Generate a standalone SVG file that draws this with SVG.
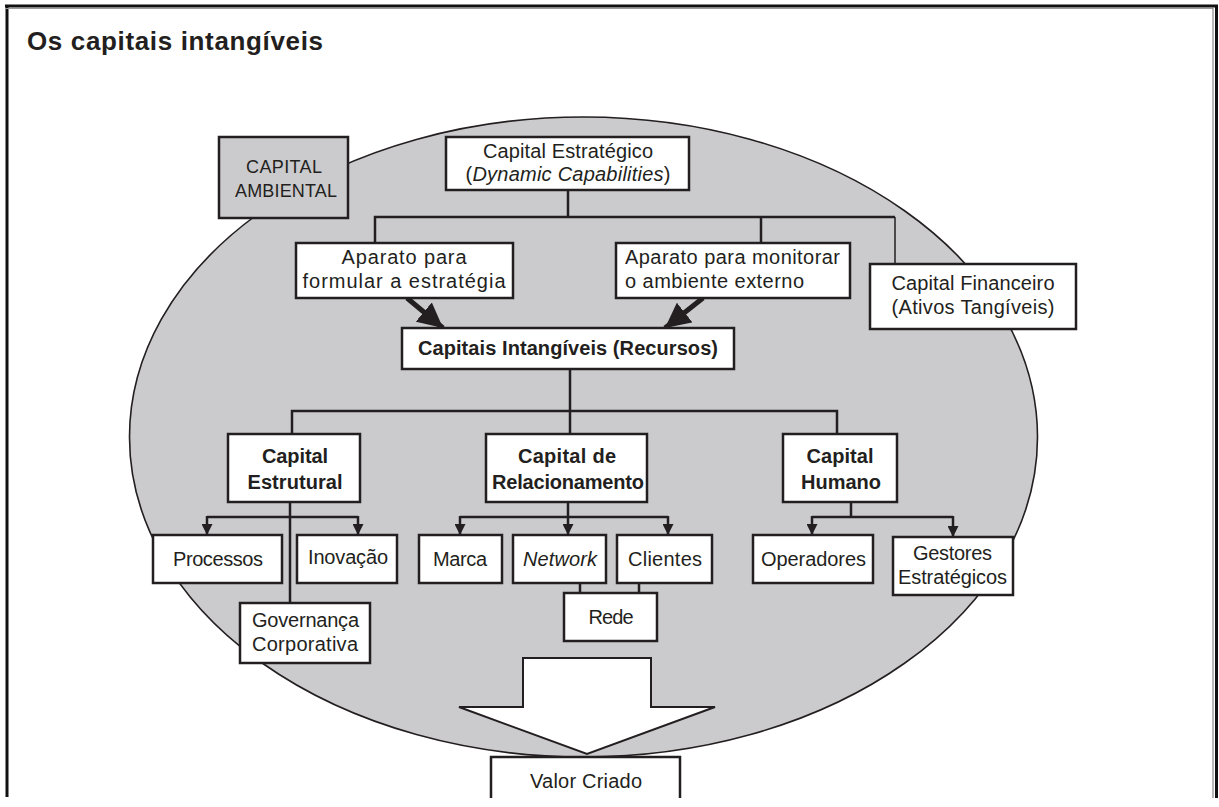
<svg xmlns="http://www.w3.org/2000/svg" width="1219" height="807" viewBox="0 0 1219 807">
<defs>
<style>
.box{fill:#fff;stroke:#231f20;stroke-width:2.5}
.gbox{fill:#cbcbcd;stroke:#231f20;stroke-width:2.5}
.t{font-family:"Liberation Sans",Arial,sans-serif;font-size:20px;fill:#231f20;text-anchor:middle}
.s{font-size:18px}
.b{font-weight:bold}
.c{fill:none;stroke:#231f20;stroke-width:2.5}
.thin{fill:none;stroke:#231f20;stroke-width:1.5}
</style>
<marker id="ah" viewBox="0 0 10 10" refX="10" refY="5" markerWidth="11" markerHeight="11" markerUnits="userSpaceOnUse" orient="auto">
<path d="M0,0 L10,5 L0,10 z" fill="#231f20"/>
</marker>
<marker id="big" viewBox="0 0 10 10" refX="10" refY="5" markerWidth="25" markerHeight="25" markerUnits="userSpaceOnUse" orient="auto">
<path d="M0,0 L10,5 L0,10 z" fill="#231f20"/>
</marker>
</defs>
<rect width="1219" height="807" fill="#fff"/>
<g id="frame">
<line x1="7" y1="5" x2="7" y2="797" stroke="#111" stroke-width="3"/>
<line x1="5" y1="6" x2="1218" y2="6" stroke="#111" stroke-width="3"/>
<line x1="5" y1="8.5" x2="1213" y2="8.5" stroke="#999" stroke-width="1"/>
<line x1="1213" y1="8" x2="1213" y2="798" stroke="#888" stroke-width="1.2"/>
<line x1="1216.5" y1="5" x2="1216.5" y2="798" stroke="#111" stroke-width="3"/>
</g>
<text x="27" y="50" textLength="296" style="font-family:'Liberation Sans',Arial,sans-serif;font-size:26px;font-weight:bold;fill:#231f20">Os capitais intangíveis</text>
<ellipse id="ambiente" cx="583.5" cy="437" rx="454" ry="320" fill="#cbcbcd" stroke="#231f20" stroke-width="1.6"/>
<g id="connectors">
<path class="c" d="M568,190 V217 M375,243 V217 H895 M761,217 V243"/>
<path class="thin" d="M895,217 V264"/>
<line x1="407" y1="298" x2="443" y2="328" stroke="#231f20" stroke-width="5" marker-end="url(#big)"/>
<line x1="703" y1="298" x2="665" y2="328" stroke="#231f20" stroke-width="5" marker-end="url(#big)"/>
<path class="c" d="M570,369 V411 M292,434 V411 H837 V434 M570,411 V434"/>
<path class="c" d="M290,502 V603 M207,517 H358"/>
<line class="c" x1="207" y1="516" x2="207" y2="535" marker-end="url(#ah)"/>
<line class="c" x1="358" y1="516" x2="358" y2="535" marker-end="url(#ah)"/>
<path class="c" d="M568,502 V517 M460,517 H668"/>
<line class="c" x1="460" y1="516" x2="460" y2="535" marker-end="url(#ah)"/>
<line class="c" x1="568" y1="516" x2="568" y2="535" marker-end="url(#ah)"/>
<line class="c" x1="668" y1="516" x2="668" y2="535" marker-end="url(#ah)"/>
<path class="c" d="M580,583 V593 M639,583 V593"/>
<path class="c" d="M851,502 V517 M812,517 H953"/>
<line class="c" x1="812" y1="516" x2="812" y2="535" marker-end="url(#ah)"/>
<line class="c" x1="953" y1="516" x2="953" y2="537" marker-end="url(#ah)"/>
</g>
<g id="capital-ambiental">
<rect class="gbox" x="219" y="137" width="129" height="81"/>
<text class="t s" x="284" y="173" textLength="76">CAPITAL</text>
<text class="t s" x="286" y="197" textLength="102">AMBIENTAL</text>
</g>
<g id="capital-estrategico">
<rect class="box" x="446" y="137" width="243" height="53"/>
<text class="t" x="568" y="158" textLength="170">Capital Estratégico</text>
<text class="t" x="568" y="181" textLength="205">(<tspan font-style="italic">Dynamic Capabilities</tspan>)</text>
</g>
<g id="aparato-formular">
<rect class="box" x="296" y="243" width="217" height="55"/>
<text class="t" x="404" y="264" textLength="125">Aparato para</text>
<text class="t" x="404" y="288" textLength="203">formular a estratégia</text>
</g>
<g id="aparato-monitorar">
<rect class="box" x="616" y="243" width="234" height="55"/>
<text class="t" x="625" y="264" textLength="215" style="text-anchor:start">Aparato para monitorar</text>
<text class="t" x="625" y="288" textLength="179" style="text-anchor:start">o ambiente externo</text>
</g>
<g id="capital-financeiro">
<rect class="box" x="870" y="264" width="206" height="65"/>
<text class="t" x="973" y="290" textLength="163">Capital Financeiro</text>
<text class="t" x="973" y="314" textLength="163">(Ativos Tangíveis)</text>
</g>
<g id="capitais-intangiveis">
<rect class="box" x="402" y="328" width="332" height="41"/>
<text class="t b" x="568" y="355" textLength="300">Capitais Intangíveis (Recursos)</text>
</g>
<g id="capital-estrutural">
<rect class="box" x="228" y="434" width="132" height="68"/>
<text class="t b" x="295" y="463" textLength="66">Capital</text>
<text class="t b" x="295" y="489" textLength="95">Estrutural</text>
</g>
<g id="capital-relacionamento">
<rect class="box" x="486" y="434" width="161" height="68"/>
<text class="t b" x="567" y="463" textLength="98">Capital de</text>
<text class="t b" x="568" y="489" textLength="152">Relacionamento</text>
</g>
<g id="capital-humano">
<rect class="box" x="783" y="434" width="114" height="68"/>
<text class="t b" x="840" y="463" textLength="67">Capital</text>
<text class="t b" x="841" y="489" textLength="80">Humano</text>
</g>
<g id="processos">
<rect class="box" x="153" y="535" width="129" height="48"/>
<text class="t" x="218" y="566" textLength="90">Processos</text>
</g>
<g id="inovacao">
<rect class="box" x="297" y="535" width="100" height="48"/>
<text class="t" x="348" y="564" textLength="80">Inovação</text>
</g>
<g id="governanca">
<rect class="box" x="240" y="603" width="130" height="60"/>
<text class="t" x="305.5" y="627" textLength="107">Governança</text>
<text class="t" x="305" y="651" textLength="106">Corporativa</text>
</g>
<g id="marca">
<rect class="box" x="419" y="535" width="83" height="48"/>
<text class="t" x="460" y="566" textLength="54">Marca</text>
</g>
<g id="network">
<rect class="box" x="513" y="535" width="93" height="48"/>
<text class="t" x="560" y="566" font-style="italic" textLength="74">Network</text>
</g>
<g id="clientes">
<rect class="box" x="617" y="535" width="95" height="48"/>
<text class="t" x="665" y="566" textLength="74">Clientes</text>
</g>
<g id="rede">
<rect class="box" x="564" y="593" width="93" height="48"/>
<text class="t" x="611" y="624" textLength="45">Rede</text>
</g>
<g id="operadores">
<rect class="box" x="753" y="535" width="120" height="48"/>
<text class="t" x="813.5" y="566" textLength="105">Operadores</text>
</g>
<g id="gestores">
<rect class="box" x="893" y="537" width="120" height="58"/>
<text class="t" x="952.5" y="560" textLength="79">Gestores</text>
<text class="t" x="952.5" y="584" textLength="109">Estratégicos</text>
</g>
<g id="seta-valor">
<path d="M523,658 H651 V707 H715 L587,754 L459,707 H523 Z" fill="#fff" stroke="#231f20" stroke-width="2"/>
</g>
<g id="valor-criado">
<path d="M491,798 V757 H680 V798" fill="#fff" stroke="#231f20" stroke-width="2.5"/>
<text class="t" x="586" y="788" textLength="112">Valor Criado</text>
</g>
</svg>
